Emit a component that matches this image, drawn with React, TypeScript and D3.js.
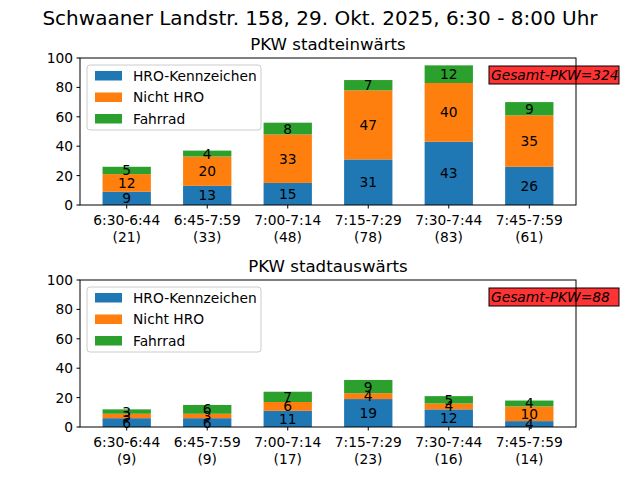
import React from "react";
import * as d3 from "d3";

const categories = ["6:30-6:44", "6:45-7:59", "7:00-7:14", "7:15-7:29", "7:30-7:44", "7:45-7:59"];
const inHRO = [9, 13, 15, 31, 43, 26];
const inNicht = [12, 20, 33, 47, 40, 35];
const inRad = [5, 4, 8, 7, 12, 9];
const outHRO = [6, 6, 11, 19, 12, 4];
const outNicht = [3, 3, 6, 4, 4, 10];
const outRad = [3, 6, 7, 9, 5, 4];
const yTicks = [0, 20, 40, 60, 80, 100];
const seriesNames = ["HRO-Kennzeichen", "Nicht HRO", "Fahrrad"];
const colors = ["#1f77b4", "#ff7f0e", "#2ca02c"];

const W = 640, H = 480;
const left = 80, right = 576;
const font = "DejaVu Sans, sans-serif";
const fs = 13.8;

function Panel({ top, bottom, title, series, total }: { top: number; bottom: number; title: string; series: number[][]; total: number }) {
  const x = d3.scaleLinear().domain([-0.58, 5.58]).range([left, right]);
  const y = d3.scaleLinear().domain([0, 100]).range([bottom, top]);
  const bw = (x(0.6) - x(0));
  const stacks = categories.map((_, i) => {
    let acc = 0;
    return series.map((s) => {
      const y0 = acc;
      acc += s[i];
      return { y0, y1: acc, v: s[i] };
    });
  });
  return (
    <g>
      <text x={(left + right) / 2} y={top - 8} textAnchor="middle" fontSize={16.6} fontFamily={font}>{title}</text>
      {stacks.map((st, i) =>
        st.map((seg, j) => (
          <rect key={`${i}-${j}`} x={x(i) - bw / 2} width={bw} y={y(seg.y1)} height={y(seg.y0) - y(seg.y1)} fill={colors[j]} />
        ))
      )}
      {stacks.map((st, i) =>
        st.map((seg, j) => (
          <text key={`t${i}-${j}`} x={x(i)} y={(y(seg.y0) + y(seg.y1)) / 2} dy="0.36em" textAnchor="middle" fontSize={fs} fontFamily={font}>{seg.v}</text>
        ))
      )}
      <rect x={left} y={top} width={right - left} height={bottom - top} fill="none" stroke="black" strokeWidth={1} />
      {yTicks.map((t) => (
        <g key={t}>
          <line x1={left - 3.5} x2={left} y1={y(t)} y2={y(t)} stroke="black" />
          <text x={left - 7} y={y(t)} dy="0.36em" textAnchor="end" fontSize={fs} fontFamily={font}>{t}</text>
        </g>
      ))}
      {categories.map((c, i) => (
        <g key={c}>
          <line x1={x(i)} x2={x(i)} y1={bottom} y2={bottom + 3.5} stroke="black" />
          <text x={x(i)} y={bottom + 20} textAnchor="middle" fontSize={fs} fontFamily={font}>{c}</text>
          <text x={x(i)} y={bottom + 37} textAnchor="middle" fontSize={fs} fontFamily={font}>({series[0][i] + series[1][i]})</text>
        </g>
      ))}
      <g>
        <rect x={87} y={top + 7} width={174} height={65} rx={3} fill="white" fillOpacity={0.8} stroke="#cccccc" />
        {seriesNames.map((n, j) => (
          <g key={n}>
            <rect x={95} y={top + 13 + j * 21.5} width={27} height={9.5} fill={colors[j]} />
            <text x={133} y={top + 18 + j * 21.5} dy="0.36em" fontSize={fs} fontFamily={font}>{n}</text>
          </g>
        ))}
      </g>
      <rect x={489} y={top + 8} width={130} height={18} fill="#ff3333" stroke="black" strokeWidth={1} />
      <line x1={right} x2={right} y1={top + 8} y2={top + 26} stroke="black" />
      <text x={491} y={top + 17} dy="0.36em" fontSize={fs} fontStyle="italic" fontFamily={font}>Gesamt-PKW={total}</text>
    </g>
  );
}

export default function App() {
  const totalIn = d3.sum(inHRO) + d3.sum(inNicht);
  const totalOut = d3.sum(outHRO) + d3.sum(outNicht);
  return (
    <svg width={W} height={H} style={{ position: "absolute", left: 0, top: 0, background: "white" }}>
      <rect width={W} height={H} fill="white" />
      <text x={W / 2} y={25} textAnchor="middle" fontSize={20} fontFamily={font}>Schwaaner Landstr. 158, 29. Okt. 2025, 6:30 - 8:00 Uhr</text>
      <Panel top={58} bottom={205} title="PKW stadteinwärts" series={[inHRO, inNicht, inRad]} total={totalIn} />
      <Panel top={280} bottom={427} title="PKW stadtauswärts" series={[outHRO, outNicht, outRad]} total={totalOut} />
    </svg>
  );
}
